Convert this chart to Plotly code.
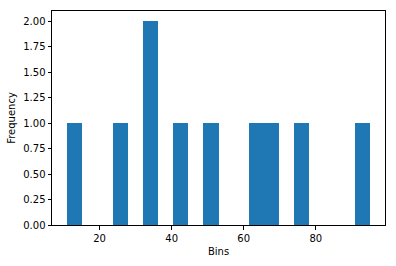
import plotly.graph_objects as go

values = [12, 25, 33, 35, 42, 50, 63, 67, 76, 93]
bin_start = 11
bin_end = 95
n_bins = 20
bin_size = (bin_end - bin_start) / n_bins
y_ticks = [0, 0.25, 0.5, 0.75, 1.0, 1.25, 1.5, 1.75, 2.0]
x_ticks = [20, 40, 60, 80]

fig = go.Figure(go.Histogram(
    x=values,
    xbins=dict(start=bin_start, end=bin_end + 1e-9, size=bin_size),
    marker=dict(color="#1f77b4", line=dict(width=0)),
))

axis_common = dict(
    showline=True, linecolor="black", linewidth=1, mirror=True,
    ticks="outside", ticklen=3.5, tickwidth=1, tickcolor="black",
    showgrid=False, zeroline=False,
    tickfont=dict(family="DejaVu Sans", size=10, color="black"),
)

span = bin_end - bin_start
fig.update_layout(
    width=396, height=266,
    margin=dict(l=52, r=11, t=10, b=37),
    plot_bgcolor="white", paper_bgcolor="white",
    bargap=0, showlegend=False,
    font=dict(family="DejaVu Sans", size=10, color="black"),
    xaxis=dict(
        **axis_common,
        range=[bin_start - 0.05 * span, bin_end + 0.05 * span],
        tickvals=x_ticks,
        title=dict(text="Bins", font=dict(family="DejaVu Sans", size=10, color="black"), standoff=5),
    ),
    yaxis=dict(
        **axis_common,
        range=[0, 2.1],
        tickvals=y_ticks,
        tickformat=".2f",
        title=dict(text="Frequency", font=dict(family="DejaVu Sans", size=10, color="black"), standoff=5),
    ),
)

fig.write_html("out.html")
